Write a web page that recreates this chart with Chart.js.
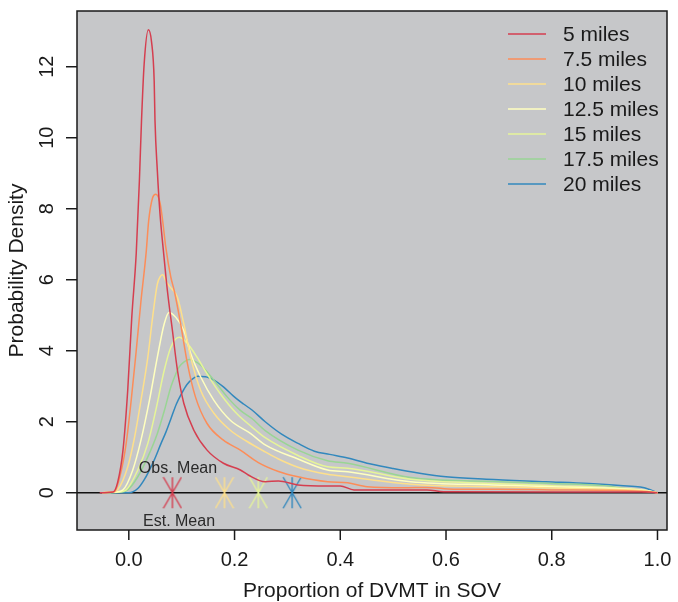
<!DOCTYPE html>
<html>
<head>
<meta charset="utf-8">
<script src="https://cdn.jsdelivr.net/npm/chart.js@4/dist/chart.umd.min.js"></script>
<style>
  html, body { margin: 0; padding: 0; background: #fff; }
  #wrap { width: 678px; height: 602px; }
</style>
</head>
<body>
<div id="wrap"><canvas id="chart" width="678" height="602"></canvas></div>
<script>
// density curves, [proportion, density]
var miles5 = [[-0.055,0],[-0.03,0.02],[-0.021,0.3],[-0.011,1.2],[-0.002,2.9],[0.0056,4.94],[0.014,6.73],[0.020,8.78],
  [0.024,10.47],[0.029,12.07],[0.037,13.04],[0.043,12.7],[0.048,11.6],[0.0495,10.5],[0.054,9.06],[0.059,7.86],
  [0.066,6.73],[0.073,5.69],[0.0825,4.57],[0.092,3.45],[0.104,2.52],[0.123,1.76],[0.148,1.2],[0.179,0.83],
  [0.211,0.64],[0.226,0.5],[0.258,0.31],[0.283,0.33],[0.32,0.22],[0.376,0.19],[0.40,0.19],[0.426,0.08],
  [0.564,0.08],[0.595,0.03],[0.98,0.02],[1.0,0]];
var miles7_5 = [[-0.05,0],[-0.035,0.01],[-0.027,0.03],[-0.014,0.64],[-0.005,1.39],[0.0045,2.6],[0.014,4.0],[0.023,5.4],
  [0.033,6.8],[0.0375,7.65],[0.045,8.31],[0.051,8.41],[0.059,8.17],[0.064,7.66],[0.070,6.91],[0.0795,6.07],
  [0.086,5.69],[0.098,4.76],[0.111,3.63],[0.126,2.7],[0.148,1.95],[0.179,1.48],[0.211,1.2],[0.245,0.85],
  [0.283,0.6],[0.32,0.45],[0.376,0.31],[0.414,0.28],[0.451,0.17],[0.52,0.14],[0.564,0.15],[0.614,0.1],
  [0.7,0.1],[0.8,0.08],[0.9,0.07],[0.97,0.04],[1.0,0]];
var miles10 = [[-0.05,0],[-0.03,0.02],[-0.021,0.08],[-0.002,0.73],[0.011,1.57],[0.023,2.6],[0.036,3.82],[0.045,4.94],
  [0.054,5.88],[0.060,6.1],[0.064,6.14],[0.070,5.97],[0.078,5.8],[0.092,5.5],[0.104,4.76],[0.117,3.82],
  [0.136,2.88],[0.161,2.24],[0.192,1.76],[0.223,1.45],[0.258,1.15],[0.283,0.95],[0.32,0.72],[0.376,0.52],
  [0.414,0.45],[0.533,0.24],[0.689,0.17],[0.8,0.13],[0.9,0.1],[0.98,0.05],[1.0,0]];
var miles12_5 = [[-0.05,0],[-0.025,0.02],[-0.011,0.08],[0.0075,0.64],[0.023,1.48],[0.039,2.6],[0.054,3.82],[0.067,4.76],
  [0.076,5.08],[0.089,4.94],[0.104,4.57],[0.117,3.92],[0.136,3.26],[0.161,2.6],[0.192,2.04],[0.23,1.67],
  [0.258,1.35],[0.32,0.95],[0.376,0.64],[0.414,0.59],[0.533,0.31],[0.689,0.22],[0.8,0.17],[0.9,0.13],
  [0.98,0.06],[1.0,0]];
var miles15 = [[-0.05,0],[-0.02,0.02],[-0.005,0.08],[0.017,0.64],[0.036,1.39],[0.051,2.32],[0.067,3.45],[0.0795,4.1],
  [0.095,4.38],[0.111,4.2],[0.129,3.82],[0.148,3.35],[0.173,2.79],[0.204,2.23],[0.233,1.85],[0.258,1.55],
  [0.32,1.05],[0.376,0.73],[0.414,0.69],[0.533,0.38],[0.689,0.26],[0.8,0.2],[0.9,0.15],[0.97,0.08],[1.0,0]];
var miles17_5 = [[-0.05,0],[-0.015,0.02],[-0.002,0.08],[0.017,0.45],[0.036,1.01],[0.054,1.67],[0.067,2.3],[0.0795,2.98],
  [0.089,3.35],[0.095,3.54],[0.104,3.68],[0.114,3.75],[0.136,3.59],[0.161,3.17],[0.186,2.7],[0.211,2.32],
  [0.233,2.09],[0.258,1.75],[0.32,1.2],[0.376,0.9],[0.414,0.83],[0.533,0.43],[0.676,0.32],[0.8,0.26],
  [0.9,0.2],[0.951,0.09],[1.0,0]];
var miles20 = [[-0.05,0],[0.0,0],[0.017,0.12],[0.029,0.36],[0.048,0.92],[0.061,1.39],[0.07,1.7],[0.08,2.1],
  [0.09,2.5],[0.10,2.8],[0.11,3.05],[0.12,3.2],[0.13,3.28],[0.145,3.27],[0.161,3.17],[0.179,2.98],
  [0.198,2.72],[0.217,2.5],[0.233,2.33],[0.258,2.0],[0.289,1.65],[0.32,1.39],[0.351,1.17],[0.38,1.08],
  [0.414,0.98],[0.46,0.8],[0.5,0.68],[0.55,0.55],[0.6,0.45],[0.676,0.38],[0.789,0.31],[0.87,0.26],
  [0.951,0.18],[0.975,0.14],[1.0,0]];

var seriesNames = ['5 miles', '7.5 miles', '10 miles', '12.5 miles', '15 miles', '17.5 miles', '20 miles'];
var seriesData = [miles5, miles7_5, miles10, miles12_5, miles15, miles17_5, miles20];
var seriesColors = ['#D53E4F', '#FC8D59', '#FEE08B', '#FFFFBF', '#E6F598', '#99D594', '#3288BD'];

// mean markers on the zero line
var meanX = [0.0825, 0.181, 0.245, 0.309];
var meanColors = ['#D53E4F', '#FEE08B', '#E6F598', '#3288BD'];

var xTicks = [0, 0.2, 0.4, 0.6, 0.8, 1.0];
var xTickLabels = ['0.0', '0.2', '0.4', '0.6', '0.8', '1.0'];
var yTicks = [0, 2, 4, 6, 8, 10, 12];

var fontFamily = '"Liberation Sans", Arial, Helvetica, sans-serif';
var ink = '#1a1a1a';

function makeStar(color) {
    var c = document.createElement('canvas');
    c.width = 20; c.height = 33;
    var g = c.getContext('2d');
    g.strokeStyle = color;
    g.lineWidth = 1.4;
    g.beginPath();
    g.moveTo(10, 1); g.lineTo(10, 32);
    g.moveTo(1, 1); g.lineTo(19, 32);
    g.moveTo(19, 1); g.lineTo(1, 32);
    g.stroke();
    return c;
}

var datasets = seriesData.map(function (d, i) {
    return {
        label: seriesNames[i], data: d, borderColor: seriesColors[i],
        borderWidth: 1.5, pointRadius: 0, cubicInterpolationMode: 'monotone', fill: false
    };
});
datasets.push({
    type: 'scatter', label: 'means',
    data: meanX.map(function (v) { return [v, 0]; }),
    pointStyle: meanColors.map(makeStar), pointRadius: 10
});

var framePlugin = {
    id: 'frame',
    beforeDraw: function (chart) {
        var ctx = chart.ctx, a = chart.chartArea;
        ctx.save();
        ctx.fillStyle = '#fff';
        ctx.fillRect(0, 0, chart.width, chart.height);
        ctx.fillStyle = '#c6c7c9';
        ctx.fillRect(a.left, a.top, a.right - a.left, a.bottom - a.top);
        ctx.restore();
    },
    beforeDatasetsDraw: function (chart) {
        var ctx = chart.ctx, a = chart.chartArea;
        var y0 = chart.scales.y.getPixelForValue(0);
        ctx.save();
        ctx.strokeStyle = '#111';
        ctx.lineWidth = 1.5;
        ctx.beginPath();
        ctx.moveTo(a.left, y0); ctx.lineTo(a.right, y0);
        ctx.stroke();
        ctx.restore();
    },
    afterDraw: function (chart) {
        var ctx = chart.ctx, a = chart.chartArea;
        var xs = chart.scales.x, ys = chart.scales.y;
        ctx.save();
        ctx.strokeStyle = ink;
        ctx.lineWidth = 1.5;
        ctx.strokeRect(a.left, a.top, a.right - a.left, a.bottom - a.top);

        // x axis
        ctx.fillStyle = ink;
        ctx.font = '20px ' + fontFamily;
        ctx.textAlign = 'center';
        ctx.textBaseline = 'middle';
        xTicks.forEach(function (v, i) {
            var px = xs.getPixelForValue(v);
            ctx.beginPath();
            ctx.moveTo(px, a.bottom); ctx.lineTo(px, a.bottom + 10);
            ctx.stroke();
            ctx.fillText(xTickLabels[i], px, a.bottom + 30);
        });
        ctx.font = '21px ' + fontFamily;
        ctx.fillText('Proportion of DVMT in SOV', (a.left + a.right) / 2, a.bottom + 61);

        // y axis
        yTicks.forEach(function (v) {
            var py = ys.getPixelForValue(v);
            ctx.beginPath();
            ctx.moveTo(a.left, py); ctx.lineTo(a.left - 11, py);
            ctx.stroke();
            ctx.save();
            ctx.translate(a.left - 30, py);
            ctx.rotate(-Math.PI / 2);
            ctx.font = '20px ' + fontFamily;
            ctx.fillText(String(v), 0, 0);
            ctx.restore();
        });
        ctx.save();
        ctx.translate(17, (a.top + a.bottom) / 2);
        ctx.rotate(-Math.PI / 2);
        ctx.font = '21px ' + fontFamily;
        ctx.fillText('Probability Density', 0, 0);
        ctx.restore();

        // annotations
        ctx.font = '16px ' + fontFamily;
        ctx.fillStyle = '#2a2a2a';
        ctx.fillText('Obs. Mean', xs.getPixelForValue(0.093), ys.getPixelForValue(0.67));
        ctx.fillText('Est. Mean', xs.getPixelForValue(0.095), ys.getPixelForValue(-0.8));

        // legend
        ctx.font = '21px ' + fontFamily;
        ctx.textAlign = 'left';
        ctx.fillStyle = ink;
        seriesNames.forEach(function (name, i) {
            var ly = 34 + i * 25;
            ctx.strokeStyle = seriesColors[i];
            ctx.lineWidth = 1.5;
            ctx.beginPath();
            ctx.moveTo(508, ly); ctx.lineTo(546, ly);
            ctx.stroke();
            ctx.fillText(name, 563, ly + 1);
        });
        ctx.restore();
    }
};

new Chart(document.getElementById('chart'), {
    type: 'line',
    data: { datasets: datasets },
    options: {
        responsive: false,
        animation: false,
        layout: { padding: { left: 77, right: 6, top: 9, bottom: 72 } },
        scales: {
            x: { type: 'linear', min: -0.098, max: 1.018, display: false },
            y: { type: 'linear', min: -1.05, max: 13.57, display: false }
        },
        plugins: { legend: { display: false }, tooltip: { enabled: false } }
    },
    plugins: [framePlugin]
});
</script>
</body>
</html>
